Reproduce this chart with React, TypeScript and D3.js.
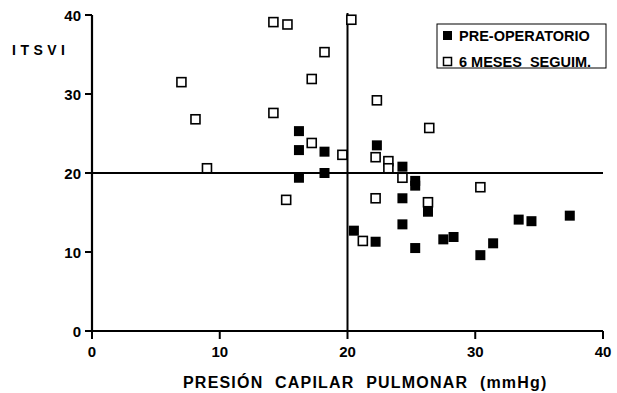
import React from "react";
import * as d3 from "d3";

const preX = [16.2, 16.2, 18.2, 16.2, 18.2, 22.3, 24.3, 25.3, 25.3, 24.3, 26.3, 24.3, 20.5, 22.2, 25.3, 27.5, 28.3, 30.4, 31.4, 33.4, 34.4, 37.4];
const preY = [25.3, 22.9, 22.7, 19.4, 20.0, 23.5, 20.8, 19.0, 18.4, 16.8, 15.1, 13.5, 12.7, 11.3, 10.5, 11.6, 11.9, 9.6, 11.1, 14.1, 13.9, 14.6];

const postX = [7.0, 8.1, 9.0, 14.2, 15.3, 18.2, 17.2, 14.2, 17.2, 19.6, 20.3, 22.3, 26.4, 22.2, 23.2, 23.2, 15.2, 24.3, 22.2, 26.3, 21.2, 30.4];
const postY = [31.5, 26.8, 20.6, 39.1, 38.8, 35.3, 31.9, 27.6, 23.8, 22.3, 39.4, 29.2, 25.7, 22.0, 21.5, 20.6, 16.6, 19.4, 16.8, 16.3, 11.4, 18.2];

const xTicks = [0, 10, 20, 30, 40];
const yTicks = [0, 10, 20, 30, 40];

const seriesNames = ["PRE-OPERATORIO", "6 MESES  SEGUIM."];
const xTitle = "PRESIÓN CAPILAR PULMONAR (mmHg)";
const yTitle = "ITSVI";

export default function App() {
  const W = 617, H = 393;
  const x = d3.scaleLinear().domain([0, 40]).range([92, 603]);
  const y = d3.scaleLinear().domain([0, 40]).range([331, 15]);
  const font = "'Liberation Sans', Arial, Helvetica, sans-serif";
  const s = 9;
  const pre = preX.map((v, i) => [v, preY[i]]);
  const post = postX.map((v, i) => [v, postY[i]]);
  return (
    <svg width={W} height={H} style={{ position: "absolute", left: 0, top: 0, background: "#fff" }} fontFamily={font} fontWeight="bold">
      <rect x={0} y={0} width={W} height={H} fill="#fff" />
      {/* axes */}
      <line x1={x(0)} x2={x(0)} y1={y(40)} y2={y(0) + 1} stroke="#000" strokeWidth={2.2} />
      <line x1={x(0) - 1} x2={x(40)} y1={y(0)} y2={y(0)} stroke="#000" strokeWidth={2.2} />
      {/* reference lines */}
      <line x1={x(0)} x2={x(40)} y1={y(20)} y2={y(20)} stroke="#000" strokeWidth={2} />
      <line x1={x(20)} x2={x(20)} y1={y(40) - 2} y2={y(0)} stroke="#000" strokeWidth={2} />
      {yTicks.map((t) => (
        <g key={"y" + t}>
          <line x1={x(0) - 7} x2={x(0)} y1={y(t)} y2={y(t)} stroke="#000" strokeWidth={2} />
          <text x={81} y={y(t) + 5.5} textAnchor="end" fontSize={15}>{t}</text>
        </g>
      ))}
      {xTicks.map((t) => (
        <g key={"x" + t}>
          <line x1={x(t)} x2={x(t)} y1={y(0)} y2={y(0) + 8} stroke="#000" strokeWidth={2} />
          <text x={x(t)} y={357} textAnchor="middle" fontSize={15}>{t}</text>
        </g>
      ))}
      <text x={12} y={55} fontSize={14} letterSpacing={4.5}>{yTitle}</text>
      <text x={183} y={388} fontSize={16} letterSpacing={1.2} wordSpacing={6}>{xTitle}</text>
      {/* points */}
      {post.map((d, i) => (
        <rect key={"o" + i} x={x(d[0]) - s / 2} y={y(d[1]) - s / 2} width={s} height={s} fill="#fff" stroke="#000" strokeWidth={1.6} />
      ))}
      {pre.map((d, i) => (
        <rect key={"f" + i} x={x(d[0]) - s / 2 - 0.5} y={y(d[1]) - s / 2 - 0.5} width={s + 1} height={s + 1} fill="#000" />
      ))}
      {/* legend */}
      <rect x={437} y={24} width={169} height={44} fill="#fff" stroke="#000" strokeWidth={1} />
      <rect x={443} y={31} width={9} height={9} fill="#000" />
      <rect x={443.5} y={57.5} width={8} height={8} fill="#fff" stroke="#000" strokeWidth={1.5} />
      <text x={459} y={41} fontSize={14.5}>{seriesNames[0]}</text>
      <text x={459} y={67} fontSize={14.5} style={{ whiteSpace: "pre" }}>{seriesNames[1]}</text>
    </svg>
  );
}
